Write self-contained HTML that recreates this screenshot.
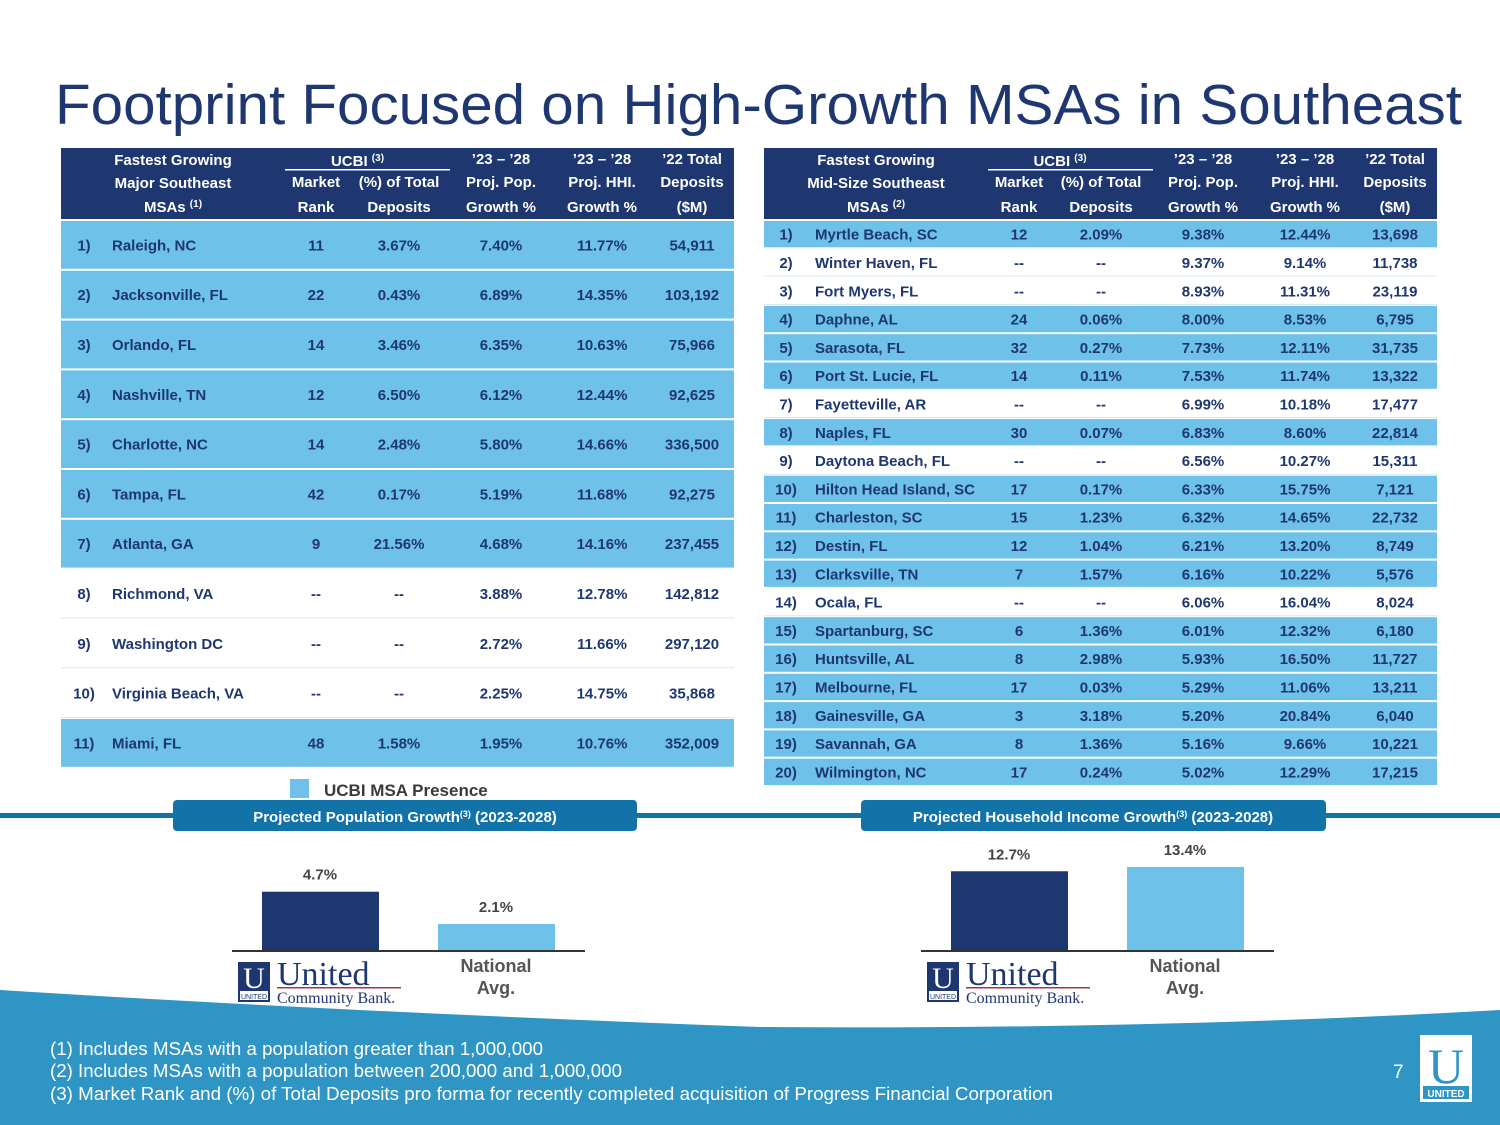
<!DOCTYPE html>
<html><head><meta charset="utf-8"><style>
html,body{margin:0;padding:0;background:#fff;}
svg{display:block;font-family:"Liberation Sans",Arial,sans-serif;}
</style></head><body>
<svg id="s" width="1500" height="1125" viewBox="0 0 1500 1125" xmlns="http://www.w3.org/2000/svg">
<text x="55" y="124" font-size="57" fill="#1f3770" textLength="1407" lengthAdjust="spacingAndGlyphs">Footprint Focused on High-Growth MSAs in Southeast</text>
<path d="M0,990 Q350,1012 760,1027 Q1150,1030 1500,1010 L1500,1125 L0,1125 Z" fill="#2f95c5"/>
<g id="tables"></g>
<rect x="0" y="813" width="1500" height="5" fill="#1273a8"/>
<rect x="290" y="779" width="19" height="19" fill="#6ec1e8"/>
<text x="324" y="796" font-size="17" font-weight="bold" fill="#3a3a3a">UCBI MSA Presence</text>
<rect x="173" y="800" width="464" height="31" rx="4" fill="#1273a8"/>
<text x="405" y="822" font-size="15" font-weight="bold" fill="#fff" text-anchor="middle">Projected Population Growth<tspan font-size="9" dy="-5">(3)</tspan><tspan dy="5"> (2023-2028)</tspan></text>
<rect x="861" y="800" width="465" height="31" rx="4" fill="#1273a8"/>
<text x="1093" y="822" font-size="15" font-weight="bold" fill="#fff" text-anchor="middle">Projected Household Income Growth<tspan font-size="9" dy="-5">(3)</tspan><tspan dy="5"> (2023-2028)</tspan></text>
<g id="charts"></g>
<g fill="#fff" font-size="18">
<text x="50" y="1055" textLength="493" lengthAdjust="spacingAndGlyphs">(1) Includes MSAs with a population greater than 1,000,000</text>
<text x="50" y="1077" textLength="572" lengthAdjust="spacingAndGlyphs">(2) Includes MSAs with a population between 200,000 and 1,000,000</text>
<text x="50" y="1100" textLength="1003" lengthAdjust="spacingAndGlyphs">(3) Market Rank and (%) of Total Deposits pro forma for recently completed acquisition of Progress Financial Corporation</text>
</g>
<text x="1393" y="1078" font-size="19" fill="#fff">7</text>
<g>
<rect x="1420" y="1035" width="52" height="67" fill="#fff"/>
<text x="1446" y="1083" font-size="50" font-family="Liberation Serif,serif" fill="#2f95c5" text-anchor="middle">U</text>
<rect x="1423" y="1086" width="46" height="13" fill="#2f95c5"/>
<text x="1446" y="1097" font-size="10" font-weight="bold" fill="#fff" text-anchor="middle">UNITED</text>
</g>
</svg>
<script>
const NS="http://www.w3.org/2000/svg";
const majorNames=["Raleigh, NC","Jacksonville, FL","Orlando, FL","Nashville, TN","Charlotte, NC","Tampa, FL","Atlanta, GA","Richmond, VA","Washington DC","Virginia Beach, VA","Miami, FL"];
const majorRank=["11","22","14","12","14","42","9","--","--","--","48"];
const majorShare=["3.67%","0.43%","3.46%","6.50%","2.48%","0.17%","21.56%","--","--","--","1.58%"];
const majorPop=["7.40%","6.89%","6.35%","6.12%","5.80%","5.19%","4.68%","3.88%","2.72%","2.25%","1.95%"];
const majorHhi=["11.77%","14.35%","10.63%","12.44%","14.66%","11.68%","14.16%","12.78%","11.66%","14.75%","10.76%"];
const majorDep=["54,911","103,192","75,966","92,625","336,500","92,275","237,455","142,812","297,120","35,868","352,009"];
const midNames=["Myrtle Beach, SC","Winter Haven, FL","Fort Myers, FL","Daphne, AL","Sarasota, FL","Port St. Lucie, FL","Fayetteville, AR","Naples, FL","Daytona Beach, FL","Hilton Head Island, SC","Charleston, SC","Destin, FL","Clarksville, TN","Ocala, FL","Spartanburg, SC","Huntsville, AL","Melbourne, FL","Gainesville, GA","Savannah, GA","Wilmington, NC"];
const midRank=["12","--","--","24","32","14","--","30","--","17","15","12","7","--","6","8","17","3","8","17"];
const midShare=["2.09%","--","--","0.06%","0.27%","0.11%","--","0.07%","--","0.17%","1.23%","1.04%","1.57%","--","1.36%","2.98%","0.03%","3.18%","1.36%","0.24%"];
const midPop=["9.38%","9.37%","8.93%","8.00%","7.73%","7.53%","6.99%","6.83%","6.56%","6.33%","6.32%","6.21%","6.16%","6.06%","6.01%","5.93%","5.29%","5.20%","5.16%","5.02%"];
const midHhi=["12.44%","9.14%","11.31%","8.53%","12.11%","11.74%","10.18%","8.60%","10.27%","15.75%","14.65%","13.20%","10.22%","16.04%","12.32%","16.50%","11.06%","20.84%","9.66%","12.29%"];
const midDep=["13,698","11,738","23,119","6,795","31,735","13,322","17,477","22,814","15,311","7,121","22,732","8,749","5,576","8,024","6,180","11,727","13,211","6,040","10,221","17,215"];
const popCats=["UCBI","National Avg."];
const popVals=[4.7,2.1];
const hhiCats=["UCBI","National Avg."];
const hhiVals=[12.7,13.4];

const T=document.getElementById('tables');
function el(tag,attrs,parent,txt){const e=document.createElementNS(NS,tag);for(const k in attrs)e.setAttribute(k,attrs[k]);if(txt!==undefined)e.textContent=txt;parent.appendChild(e);return e;}
function table(x0,title2,sup,names,rank,share,pop,hhi,dep,rowH,cols,name){
  const g=el('g',{},T);
  
  
  el('rect',{x:x0,y:148,width:673,height:71,fill:'#1f3770'},g);
  const hd=el('g',{fill:'#fff','font-size':15,'font-weight':'bold','text-anchor':'middle'},g);
  
  
  const c=cols;
  el('text',{x:x0+c.h,y:165},hd,'Fastest Growing');
  el('text',{x:x0+c.h,y:188},hd,title2);
  const m=el('text',{x:x0+c.h,y:212},hd,'MSAs ');
  el('tspan',{'font-size':10,dy:-5},m,sup);
  const u=el('text',{x:x0+(c.rank+c.share)/2,y:166},hd,'UCBI ');
  el('tspan',{'font-size':10,dy:-5},u,'(3)');
  el('rect',{x:x0+224,y:169,width:165,height:1.5,fill:'#fff'},hd);
  el('text',{x:x0+c.rank,y:187},hd,'Market');el('text',{x:x0+c.rank,y:212},hd,'Rank');
  el('text',{x:x0+c.share,y:187},hd,'(%) of Total');el('text',{x:x0+c.share,y:212},hd,'Deposits');
  el('text',{x:x0+c.pop,y:164},hd,'\u201923 \u2013 \u201928');el('text',{x:x0+c.pop,y:187},hd,'Proj. Pop.');el('text',{x:x0+c.pop,y:212},hd,'Growth %');
  el('text',{x:x0+c.hhi,y:164},hd,'\u201923 \u2013 \u201928');el('text',{x:x0+c.hhi,y:187},hd,'Proj. HHI.');el('text',{x:x0+c.hhi,y:212},hd,'Growth %');
  el('text',{x:x0+c.dep,y:164},hd,'\u201922 Total');el('text',{x:x0+c.dep,y:187},hd,'Deposits');el('text',{x:x0+c.dep,y:212},hd,'($M)');
  names.forEach((n,i)=>{
    const y=220+i*rowH;
    const r=el('g',{},g);
    
    
    const blue=rank[i]!=='--';
    el('rect',{x:x0,y:y+1,width:673,height:rowH-2,fill:blue?'#6ec1e8':'#fff'},r);
    if(!blue) el('rect',{x:x0,y:y+rowH-1,width:673,height:1,fill:'#d8e8f2'},r);
    const ty=y+rowH/2+5.5;
    const tg=el('g',{fill:'#1f3770','font-size':15,'font-weight':'bold'},r);
    el('text',{x:x0+c.num,y:ty,'text-anchor':'middle'},tg,(i+1)+')');
    el('text',{x:x0+c.name,y:ty},tg,n);
    [[c.rank,rank[i]],[c.share,share[i]],[c.pop,pop[i]],[c.hhi,hhi[i]],[c.dep,dep[i]]].forEach(([cx,v])=>el('text',{x:x0+cx,y:ty,'text-anchor':'middle'},tg,v));
  });
}
table(61,'Major Southeast','(1)',majorNames,majorRank,majorShare,majorPop,majorHhi,majorDep,49.8,{h:112,num:23,name:51,rank:255,share:338,pop:440,hhi:541,dep:631},'major-msa-table');
table(764,'Mid-Size Southeast','(2)',midNames,midRank,midShare,midPop,midHhi,midDep,28.3,{h:112,num:22,name:51,rank:255,share:337,pop:439,hhi:541,dep:631},'midsize-msa-table');

const C=document.getElementById('charts');
function logo(x,g){
  const l=el('g',{},g);
  
  
  el('rect',{x:x,y:962,width:32,height:40,fill:'#1f3770'},l);
  el('text',{x:x+16,y:988,'font-size':30,fill:'#fff','text-anchor':'middle','font-family':'Liberation Serif,serif'},l,'U');
  el('rect',{x:x+2,y:991,width:28,height:9,fill:'#fff'},l);
  el('text',{x:x+16,y:999,'font-size':7,fill:'#1f3770','text-anchor':'middle'},l,'UNITED');
  el('text',{x:x+39,y:985,'font-size':34,fill:'#1f3770','font-family':'Liberation Serif,serif'},l,'United');
  el('rect',{x:x+39,y:987,width:124,height:1.5,fill:'#b03040'},l);
  el('text',{x:x+39,y:1003,'font-size':16,fill:'#1f3770','font-family':'Liberation Serif,serif'},l,'Community Bank.');
}
function barChart(cats,vals,x0,x1,pxPer,name){
  const g=el('g',{},C);
  
  
  const base=950;
  const yS=v=>base-v*pxPer;
  const bx=[x0+30,x0+206];
  vals.forEach((v,i)=>{
    const b=el('rect',{x:bx[i],y:yS(v),width:117,height:base-yS(v),fill:i===0?'#1f3770':'#6ec1e8'},g);
    
    
    const t=el('text',{x:bx[i]+58,y:yS(v)-12,'font-size':15,'font-weight':'bold',fill:'#444','text-anchor':'middle'},g,v.toFixed(1)+'%');
    
    
  });
  el('rect',{x:x0,y:base,width:x1-x0,height:2,fill:'#333'},g);
  logo(x0+6,g);
  const parts=cats[1].split(' ');
  el('text',{x:bx[1]+58,y:972,'font-size':18,'font-weight':'bold',fill:'#555','text-anchor':'middle'},g,parts[0]);
  el('text',{x:bx[1]+58,y:994,'font-size':18,'font-weight':'bold',fill:'#555','text-anchor':'middle'},g,parts[1]);
}
barChart(popCats,popVals,232,585,12.4,'pop-growth-chart');
barChart(hhiCats,hhiVals,921,1274,6.2,'hhi-growth-chart');
</script>
</body></html>
